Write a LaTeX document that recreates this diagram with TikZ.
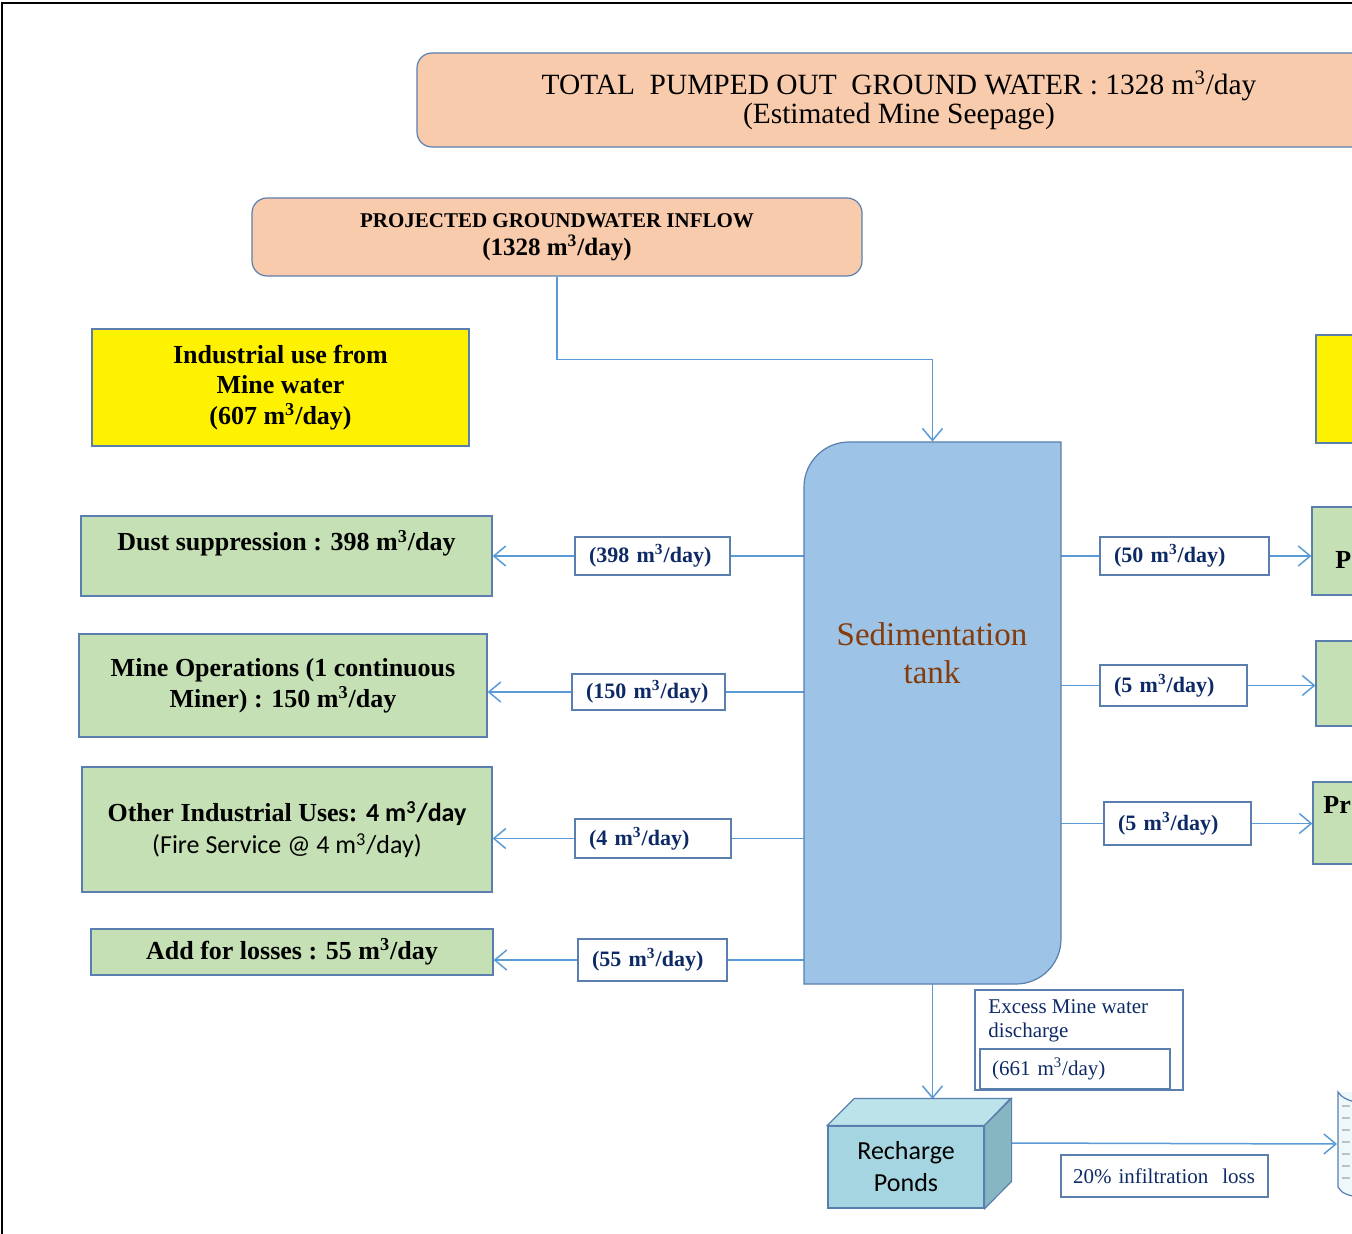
\documentclass[tikz,border=0pt]{standalone}
\usepackage{fontspec}
\setmainfont{Liberation Serif}
\newfontfamily\calib{Carlito}
\usepackage{tikz}
\usetikzlibrary{positioning}
\usetikzlibrary{calc}
\usetikzlibrary{arrows.meta}
\pgfdeclarelayer{nodelayer}
\pgfdeclarelayer{edgelayer}
\pgfsetlayers{edgelayer,nodelayer,main}
\definecolor{peach}{HTML}{F8CBAD}
\definecolor{rimblue}{HTML}{5A7FAE}
\definecolor{flowblue}{HTML}{5B9BD5}
\definecolor{usegreen}{HTML}{C5E0B4}
\definecolor{tankblue}{HTML}{9DC3E6}
\definecolor{navy}{HTML}{0E2A66}
\definecolor{rust}{HTML}{843C0C}
\definecolor{pondfront}{HTML}{A5D5E0}
\definecolor{pondtop}{HTML}{BCE2EA}
\definecolor{pondside}{HTML}{86B6C2}
\definecolor{tubefill}{HTML}{EEF8FA}
\newcommand{\cum}{m\textsuperscript{3}}
\newcommand{\fsz}[2]{\fontsize{#1}{#2}\selectfont}
\tikzset{rim/.style={draw=rimblue, line width=0.6pt}}
\tikzset{title/.style={rim, fill=peach, rounded corners=7.5pt, align=center, inner sep=0pt}}
\tikzset{usebox/.style={rim, fill=usegreen, align=center, inner sep=0pt, font=\fsz{13}{15.5}\bfseries}}
\tikzset{yellowbox/.style={rim, fill=yellow, align=center, inner sep=0pt}}
\tikzset{tag/.style={rim, fill=white, text=navy, align=left, inner xsep=7pt, inner ysep=0pt, text width=#1, font=\fsz{11}{13}\bfseries}}
\tikzset{flow/.style={draw=flowblue, line width=0.75pt}}
\tikzset{flowto/.style={flow, -{Straight Barb[length=6pt,width=10pt]}}}
\tikzset{tankshape/.style={draw=rimblue, fill=tankblue, line width=0.6pt}}
\tikzset{pond/.style={draw=rimblue, line width=0.6pt}}
\begin{document}
\begin{tikzpicture}[x=0.5pt, y=-0.5pt]
        \useasboundingbox (0,0) rectangle (1352,1234);
        \begin{pgfonlayer}{nodelayer}
            \clip (0,0) rectangle (1352,1234);
            % sedimentation tank
            \draw [tankshape] (804,984) -- (804,487) arc[start angle=180, end angle=270, radius=45] -- (1061,442) -- (1061,939) arc[start angle=0, end angle=90, radius=45] -- cycle;
            \node [inner sep=0pt, minimum width=128.5pt, minimum height=271pt] (9) at (932.5,713) {};
            \node [text=rust, align=center, font=\fsz{16.5}{19}] (10) at (932,653) {Sedimentation\\tank};
            \node [style=title, minimum width=482pt, minimum height=47pt] (0) at (899,100) {\fsz{14.7}{17.5}TOTAL\ \ PUMPED OUT\ \ GROUND WATER\ : 1328 \cum/day\\\fsz{14.7}{17.5}(Estimated Mine Seepage)};
            \node [style=title, minimum width=305pt, minimum height=39pt] (2) at (557,237) {\fsz{10.5}{14.5}\bfseries PROJECTED GROUNDWATER INFLOW\\[2pt]\fsz{12.5}{14.5}\bfseries (1328 \cum/day)};
            \node [style=yellowbox, minimum width=188.5pt, minimum height=58.5pt, font=\fsz{13}{15.25}\bfseries] (3) at (280.5,387.5) {Industrial use from\\Mine water\\(607 \cum/day)};
            \node [style=usebox, minimum width=205.5pt, minimum height=40pt] (1) at (286.5,556) {Dust suppression : 398 \cum/day\\\mbox{}};
            \node [style=usebox, minimum width=204pt, minimum height=51.5pt] (4) at (283,685.5) {Mine Operations (1 continuous\\Miner) : 150 \cum/day};
            \node [style=usebox, minimum width=205pt, minimum height=62.5pt, font=\fsz{13}{16}] (5) at (287,829.5) {{\bfseries Other Industrial Uses: {\calib 4 \cum/day}}\\{\calib (Fire Service @ 4 \cum/day)}};
            \node [style=usebox, minimum width=201pt, minimum height=23pt] (6) at (292,952) {Add for losses : 55 \cum/day};
            \node [tag=63.5pt, minimum height=19pt] (11) at (652.5,556) {(398 \cum/day)};
            \node [tag=62.5pt, minimum height=18pt] (12) at (648.5,692) {(150 \cum/day)};
            \node [tag=64pt, minimum height=19.5pt] (13) at (653,838.5) {(4 \cum/day)};
            \node [tag=60.5pt, minimum height=21pt] (14) at (652.5,960) {(55 \cum/day)};
            \node [tag=70.5pt, minimum height=19pt] (21) at (1184.5,556) {(50 \cum/day)};
            \node [tag=59.5pt, minimum height=20.5pt] (22) at (1173.5,685.5) {(5 \cum/day)};
            \node [tag=59.5pt, minimum height=21.5pt] (23) at (1177.5,823.5) {(5 \cum/day)};
            \node [style=yellowbox, minimum width=92pt, minimum height=54pt] (31) at (1408,389) {};
            \node [style=usebox, minimum width=94pt, minimum height=44pt] (32) at (1406,551) {};
            \node [style=usebox, minimum width=92pt, minimum height=42.5pt] (33) at (1408,683.5) {};
            \node [style=usebox, minimum width=93.5pt, minimum height=41pt] (34) at (1406.5,823) {};
            \node [anchor=west, inner sep=0pt, font=\fsz{13}{15}\bfseries] (35) at (1335,560) {P};
            \node [anchor=west, inner sep=0pt, font=\fsz{13}{15}\bfseries] (38) at (1323,805) {Pr};
            % excess discharge
            \node [rim, inner sep=0pt, minimum width=104pt, minimum height=50pt] (36) at (1079,1040) {};
            \node [anchor=north west, inner sep=0pt, align=left, text=navy, font=\fsz{10.5}{12}] (39) at (988,999) {Excess Mine water\\discharge};
            \node [rim, fill=white, inner xsep=6pt, inner ysep=0pt, text width=83pt, align=left, minimum height=20pt, text=navy, font=\fsz{10.5}{12}] (37) at (1075,1069) {(661 \cum/day)};
            % recharge ponds
            \node [pond, fill=pondfront, inner sep=0pt, minimum width=78pt, minimum height=41pt, align=center, font=\calib\fsz{13}{16}] (40) at (906,1167) {Recharge\\Ponds};
            \draw [pond, fill=pondtop] (40.north west) -- ++(27,-27) -- ++(156,0) -- (40.north east) -- cycle;
            \draw [pond, fill=pondside] (40.north east) -- ++(27,-27) -- ++(0,83) -- (40.south east) -- cycle;
            \node [rim, fill=white, inner xsep=6pt, inner ysep=0pt, text width=91.5pt, align=left, minimum height=21pt, text=navy, font=\fsz{10.5}{12}] (43) at (1164.5,1176) {20\% infiltration\ \ loss};
            % tank at the edge
            \fill [tubefill] (1338,1092) -- (1338,1187) .. controls (1341,1193) and (1348,1196) .. (1360,1197) -- (1360,1092) -- cycle;
            \foreach \y in {1106,1118,...,1182}
                \draw [black!25, line width=1pt] (1342,\y) -- (1350,\y);
            \draw [rim] (1360,1103) .. controls (1348,1101) and (1341,1097) .. (1338,1092) -- (1338,1187) .. controls (1341,1193) and (1348,1196) .. (1360,1197);
            \coordinate (44) at (1337,1144);
            \coordinate (41) at (932.5,1099);
            \coordinate (42) at (1011,1143);
            % frame
            \draw [line width=1pt] (2,1240) -- (2,3) -- (1360,3);
        \end{pgfonlayer}
        \begin{pgfonlayer}{edgelayer}
            \clip (0,0) rectangle (1352,1234);
            \draw [flowto] (2.south) -- ++(0,83) -| (9.north);
            \draw [flow] (9.west |- 11) -- (11);
            \draw [flowto] (11) -- (11 -| 1.east);
            \draw [flow] (9.west |- 12) -- (12);
            \draw [flowto] (12) -- (12 -| 4.east);
            \draw [flow] (9.west |- 13) -- (13);
            \draw [flowto] (13) -- (13 -| 5.east);
            \draw [flow] (9.west |- 14) -- (14);
            \draw [flowto] (14) -- (14 -| 6.east);
            \draw [flow] (9.east |- 21) -- (21);
            \draw [flowto] (21) -- (21 -| 32.west);
            \draw [flow] (9.east |- 22) -- (22);
            \draw [flowto] (22) -- (22 -| 33.west);
            \draw [flow] (9.east |- 23) -- (23);
            \draw [flowto] (23) -- (23 -| 34.west);
            \draw [flowto] (9.south) -- (41);
            \draw [flowto] (42) -- (44);
        \end{pgfonlayer}
    \end{tikzpicture}
\end{document}
